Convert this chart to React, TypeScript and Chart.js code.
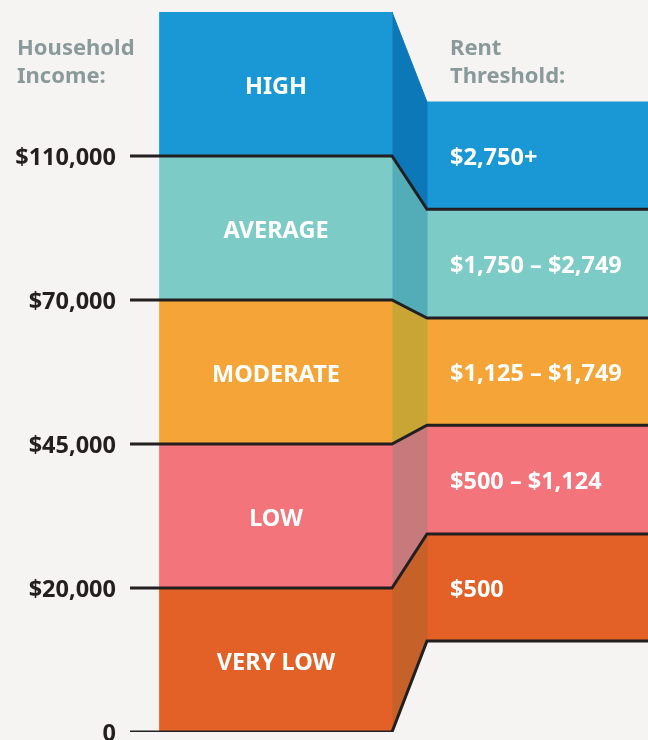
import { useEffect, useRef } from "react";
import Chart from "chart.js/auto";

// ---- data ----
const categories = ["VERY LOW", "LOW", "MODERATE", "AVERAGE", "HIGH"];
const incomeTicks = ["0", "$20,000", "$45,000", "$70,000", "$110,000"];
const rentLabels = ["$500", "$500 – $1,124", "$1,125 – $1,749", "$1,750 – $2,749", "$2,750+"];
// band edges of the income column (band index units)
const incomeBounds = [0, 1, 2, 3, 4, 5];
// band edges of the rent column, measured on the same scale
const rentBounds = [0.632, 1.375, 2.13, 2.875, 3.63, 4.375];
const headers = { left: ["Household", "Income:"], right: ["Rent", "Threshold:"] };

// ---- styles / layout ----
const BG = "#f5f4f2";
const INK = "#231f20";
const HEAD = "#8a9a9a";
const FONT = "'Noto Sans', 'DejaVu Sans', sans-serif";
const bandColors = ["#e36026", "#f3747a", "#f5a537", "#7ccbc6", "#1a98d5"];
const connectorColors = ["#c6612a", "#c8797c", "#c9a535", "#52adb8", "#0c78b8"];
const X_TICK = 130;
const X_L0 = 160;
const X_L1 = 392;
const X_R0 = 427;
const X_R1 = 648;
const RENT_TEXT_X = 450;
const TEXT_DY = 3;

export default function App() {
  const ref = useRef<HTMLCanvasElement>(null);
  useEffect(() => {
    document.body.style.margin = "0";
    document.body.style.background = BG;

    const lineSets: any[] = [];
    for (let i = 0; i < incomeTicks.length; i++) {
      lineSets.push({
        data: [
          { x: X_TICK, y: incomeBounds[i] },
          { x: X_L1, y: incomeBounds[i] },
          { x: X_R0, y: rentBounds[i] },
          { x: X_R1, y: rentBounds[i] },
        ],
        borderColor: INK,
        borderWidth: 3,
        borderJoinStyle: "miter",
        borderCapStyle: "butt",
        pointRadius: 0,
        fill: false,
        order: 0,
      });
    }
    const fillSets: any[] = [];
    const poly = (pts: { x: number; y: number }[], color: string) => ({
      data: pts,
      backgroundColor: color,
      borderColor: color,
      borderWidth: 1,
      pointRadius: 0,
      fill: "shape",
      order: 1,
    });
    categories.forEach((_, b) => {
      const l0 = incomeBounds[b], l1 = incomeBounds[b + 1];
      const r0 = rentBounds[b], r1 = rentBounds[b + 1];
      fillSets.push(
        poly(
          [
            { x: X_L0, y: l0 },
            { x: X_L1, y: l0 },
            { x: X_L1, y: l1 },
            { x: X_L0, y: l1 },
            { x: X_L0, y: l0 },
          ],
          bandColors[b]
        )
      );
      fillSets.push(
        poly(
          [
            { x: X_L1, y: l0 },
            { x: X_R0, y: r0 },
            { x: X_R0, y: r1 },
            { x: X_L1, y: l1 },
            { x: X_L1, y: l0 },
          ],
          connectorColors[b]
        )
      );
      fillSets.push(
        poly(
          [
            { x: X_R0, y: r0 },
            { x: X_R1, y: r0 },
            { x: X_R1, y: r1 },
            { x: X_R0, y: r1 },
            { x: X_R0, y: r0 },
          ],
          bandColors[b]
        )
      );
    });

    const textPlugin = {
      id: "bandText",
      afterDatasetsDraw(chart: any) {
        const { ctx, scales } = chart;
        const xs = scales.x, ys = scales.y;
        ctx.save();
        ctx.fillStyle = "#ffffff";
        ctx.font = `bold 23.5px ${FONT}`;
        ctx.textBaseline = "middle";
        categories.forEach((c, b) => {
          ctx.textAlign = "center";
          ctx.fillText(
            c,
            xs.getPixelForValue((X_L0 + X_L1) / 2),
            ys.getPixelForValue((incomeBounds[b] + incomeBounds[b + 1]) / 2) + TEXT_DY
          );
          ctx.textAlign = "left";
          ctx.fillText(
            rentLabels[b],
            xs.getPixelForValue(RENT_TEXT_X),
            ys.getPixelForValue((rentBounds[b] + rentBounds[b + 1]) / 2) + TEXT_DY
          );
        });
        ctx.fillStyle = HEAD;
        ctx.textBaseline = "alphabetic";
        ctx.textAlign = "left";
        ctx.font = `bold 22px ${FONT}`;
        headers.left.forEach((t, i) => ctx.fillText(t, 17, 55 + i * 27.5));
        headers.right.forEach((t, i) => ctx.fillText(t, xs.getPixelForValue(RENT_TEXT_X), 55 + i * 27.5));
        ctx.restore();
      },
    };

    const chart = new Chart(ref.current!, {
      type: "line",
      data: { datasets: [...lineSets, ...fillSets] },
      options: {
        animation: false,
        responsive: true,
        maintainAspectRatio: false,
        layout: { padding: { top: 12, bottom: 8, left: 0, right: 0 } },
        elements: { line: { tension: 0 } },
        plugins: {
          legend: { display: false },
          tooltip: { enabled: false },
        },
        scales: {
          x: { type: "linear", min: 120, max: 648, display: false },
          y: {
            type: "linear",
            min: 0,
            max: 5,
            position: "left",
            afterFit: (s: any) => {
              s.width = 120;
              s.paddingTop = 0;
              s.paddingBottom = 0;
            },
            grid: { display: false, drawTicks: false },
            border: { display: false },
            ticks: {
              stepSize: 1,
              padding: 4,
              labelOffset: 2,
              color: INK,
              font: { family: FONT, size: 23.5, weight: "bold" },
              callback: (v: any) => incomeTicks[v] ?? "",
            },
          },
        },
      },
      plugins: [textPlugin],
    });
    return () => chart.destroy();
  }, []);
  return (
    <div style={{ width: 648, height: 740, position: "relative", background: BG }}>
      <canvas ref={ref} />
    </div>
  );
}
